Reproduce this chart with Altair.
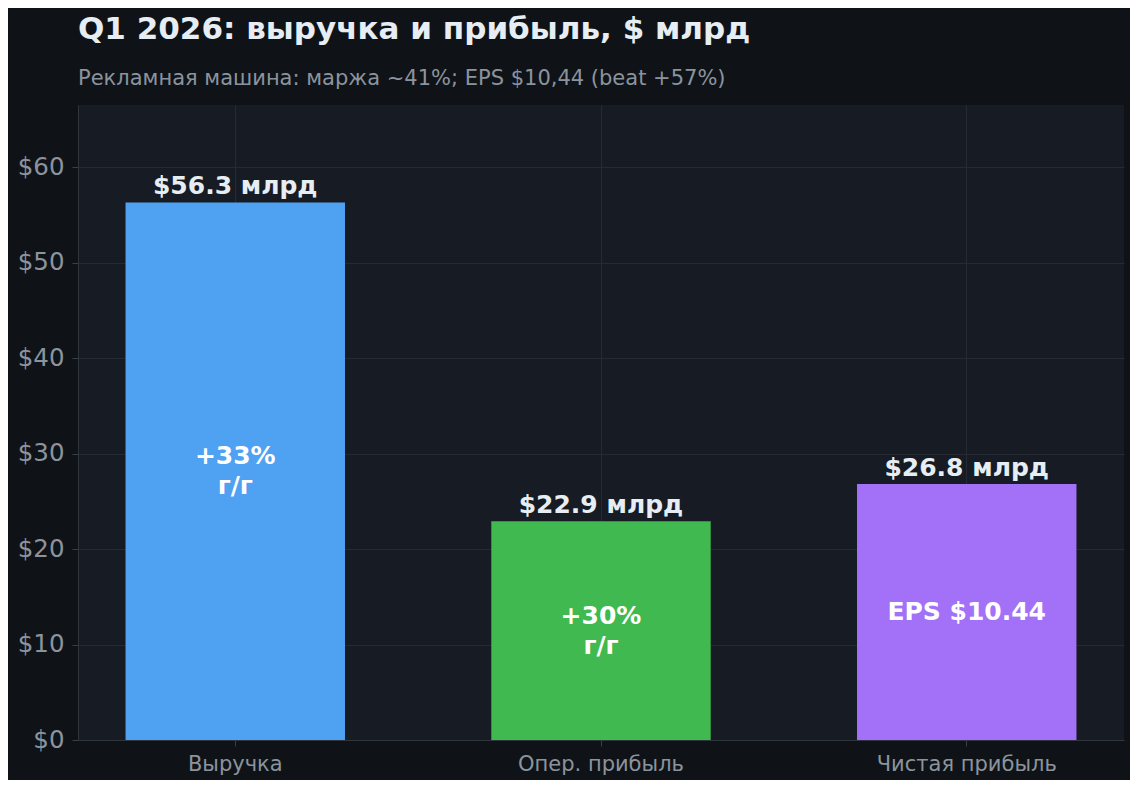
import altair as alt
import pandas as pd

# Значения с графика (млрд $)
categories = ["Выручка", "Опер. прибыль", "Чистая прибыль"]
values = [56.3, 22.9, 26.8]
value_labels = ["$56.3 млрд", "$22.9 млрд", "$26.8 млрд"]
inner_labels = ["+33%\nг/г", "+30%\nг/г", "EPS $10.44"]
colors = ["#4fa1f2", "#3fb950", "#a371f7"]
y_ticks = [0, 10, 20, 30, 40, 50, 60]

df = pd.DataFrame({
    "cat": categories,
    "value": values,
    "label": value_labels,
    "inner": inner_labels,
})
df["half"] = df["value"] / 2

FONT = "DejaVu Sans"

x = alt.X(
    "cat:N",
    sort=categories,
    title=None,
    scale=alt.Scale(paddingInner=0.4, paddingOuter=0.13),
    axis=alt.Axis(
        labelAngle=0, labelFontSize=21, labelColor="#8b949e", labelFont=FONT,
        labelPadding=7, labelLimit=400, tickColor="#3a4048", tickSize=6,
        domainColor="#30363d", grid=True, gridColor="#252a33", bandPosition=0.5,
    ),
)

base = alt.Chart(df)

bars = base.mark_bar().encode(
    x=x,
    y=alt.Y(
        "value:Q",
        title=None,
        scale=alt.Scale(domain=[0, 66.5], nice=False),
        axis=alt.Axis(
            values=y_ticks, labelExpr="'$' + datum.value", labelFontSize=24.5,
            labelColor="#8b949e", labelFont=FONT, labelPadding=8,
            tickColor="#3a4048", tickSize=6, domainColor="#30363d",
            gridColor="#252a33",
        ),
    ),
    color=alt.Color("cat:N", sort=categories,
                    scale=alt.Scale(domain=categories, range=colors), legend=None),
)

top_text = base.mark_text(
    baseline="bottom", dy=-3, fontSize=25, fontWeight="bold", font=FONT, color="#e6edf3"
).encode(x=alt.X("cat:N", sort=categories), y="value:Q", text="label:N")

# подписи внутри столбцов: двухстрочные сдвигаем вверх на полстроки
inner_two = base.transform_filter("indexof(datum.inner, '\\n') >= 0").mark_text(
    baseline="middle", dy=-15, fontSize=25, fontWeight="bold", font=FONT,
    color="#ffffff", lineBreak="\n", lineHeight=30,
).encode(x=alt.X("cat:N", sort=categories), y="half:Q", text="inner:N")

inner_one = base.transform_filter("indexof(datum.inner, '\\n') < 0").mark_text(
    baseline="middle", fontSize=25, fontWeight="bold", font=FONT, color="#ffffff",
).encode(x=alt.X("cat:N", sort=categories), y="half:Q", text="inner:N")

chart = (
    alt.layer(bars, top_text, inner_two, inner_one)
    .properties(
        width=1046,
        height=635,
        autosize=alt.AutoSizeParams(type="none"),
        padding={"left": 70, "top": 97, "right": 6, "bottom": 40},
        background="#0f1317",
        title=alt.TitleParams(
            "Q1 2026: выручка и прибыль, $ млрд",
            subtitle="Рекламная машина: маржа ~41%; EPS $10,44 (beat +57%)",
            anchor="start", frame="group", font=FONT, fontSize=31, fontWeight="bold",
            color="#e6edf3", subtitleFont=FONT, subtitleFontSize=21,
            subtitleColor="#8b949e", subtitlePadding=22, offset=15,
        ),
    )
    .configure_view(fill="#171b23", strokeWidth=0)
)

chart.save("out.html", embed_options={"renderer": "svg", "actions": False})
